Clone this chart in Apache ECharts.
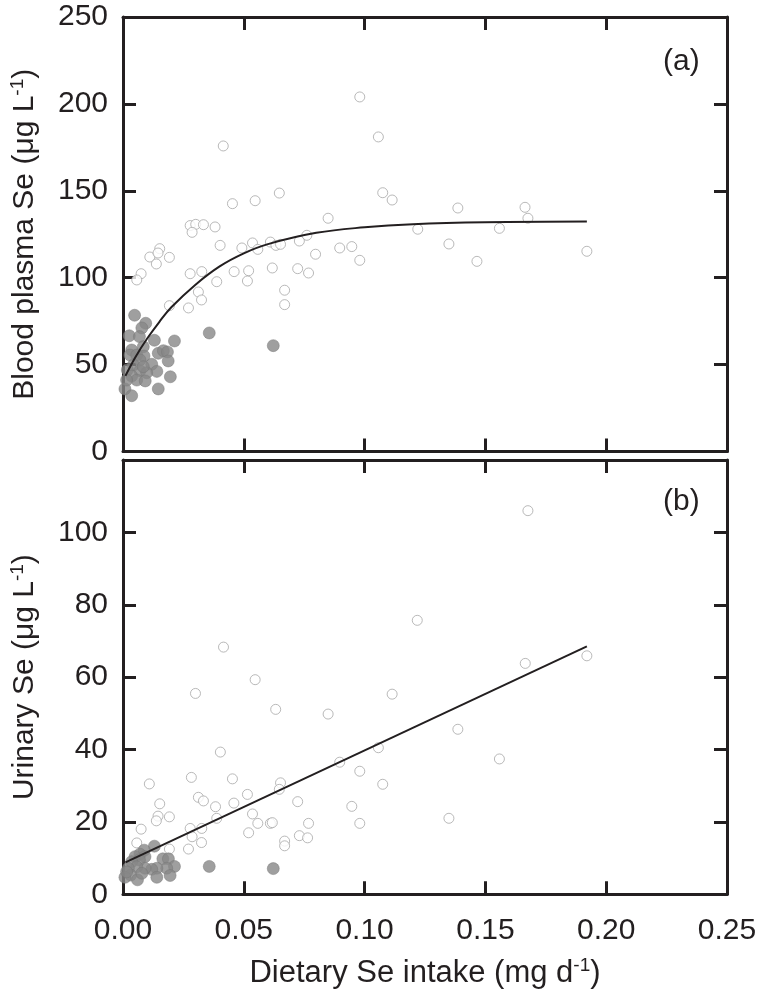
<!DOCTYPE html>
<html><head><meta charset="utf-8">
<script src="https://cdn.jsdelivr.net/npm/echarts@6/dist/echarts.min.js"></script>
<style>html,body{margin:0;padding:0;background:#fff}#c{width:760px;height:1004px}</style>
</head><body><div id="c"></div>
<script>
// ---- data (x: dietary Se intake mg/d) ----
const plasmaOpen = [[0.098,204],[0.0415,175.8],[0.1057,181],[0.0647,148.7],[0.0547,144.3],[0.0453,142.6],[0.1075,148.9],[0.1114,144.7],[0.0849,134.2],[0.0278,130],[0.0301,130.7],[0.0333,130.5],[0.0286,126.1],[0.0381,129.2],[0.1220,127.9],[0.0761,124.4],[0.1386,140.1],[0.1664,140.5],[0.1676,134.2],[0.1558,128.4],[0.1349,119.4],[0.1465,109.4],[0.192,115.2],[0.0402,118.6],[0.0492,117.1],[0.0536,120.0],[0.0558,116.3],[0.0610,120.5],[0.0633,118.6],[0.0652,119.2],[0.0730,121.1],[0.0797,113.5],[0.0897,117.1],[0.0947,117.9],[0.098,110.0],[0.0152,116.7],[0.0111,111.9],[0.0145,114.2],[0.0192,111.7],[0.0138,107.9],[0.0075,102.3],[0.0057,98.7],[0.0278,102.3],[0.0326,103.5],[0.0388,97.7],[0.046,103.5],[0.052,104.0],[0.0515,98.1],[0.0618,105.6],[0.0723,105.2],[0.0768,102.7],[0.0669,92.8],[0.0669,84.5],[0.0312,91.8],[0.0325,87.2],[0.0271,82.6],[0.0192,83.9]];
const plasmaFilled = [[0.0048,78.4],[0.0094,73.8],[0.0078,71.1],[0.0026,66.6],[0.0068,66.1],[0.013,64.0],[0.0213,63.6],[0.0357,68.2],[0.0622,60.9],[0.0036,58.4],[0.0084,60.3],[0.0029,55.5],[0.0057,55.5],[0.0087,54.9],[0.0146,56.5],[0.0167,58.0],[0.0184,57.3],[0.0187,52.1],[0.0070,52.7],[0.0043,49.8],[0.0119,50.2],[0.0018,46.9],[0.0070,46.5],[0.014,46.1],[0.0098,45.3],[0.0036,43.4],[0.0196,43.0],[0.0057,41.1],[0.0092,40.6],[0.0008,36.0],[0.0146,36.0],[0.0036,32.1],[0.0084,48.8],[0.0015,41.1]];
const plasmaFit = [[0.001,43.5],[0.005,54.0],[0.01,65.0],[0.015,74.5],[0.02,83.0],[0.03,96.0],[0.04,106.5],[0.05,114.0],[0.06,119.3],[0.08,125.8],[0.10,129.0],[0.12,130.8],[0.15,131.9],[0.192,132.3]];
const urineOpen = [[0.0416,68.3],[0.0547,59.3],[0.1218,75.7],[0.1676,106.0],[0.1665,63.8],[0.192,65.9],[0.1386,45.6],[0.1558,37.4],[0.1349,21.0],[0.030,55.5],[0.0632,51.1],[0.0849,49.8],[0.1114,55.3],[0.0403,39.3],[0.1057,40.5],[0.0897,36.5],[0.098,34.0],[0.1075,30.4],[0.0109,30.5],[0.0283,32.3],[0.0453,31.9],[0.0652,30.8],[0.0647,29.0],[0.0515,27.6],[0.0312,26.8],[0.0333,25.8],[0.0383,24.2],[0.0459,25.2],[0.0723,25.6],[0.0947,24.3],[0.0152,25.0],[0.0145,21.6],[0.0138,20.3],[0.0192,21.4],[0.0388,21.0],[0.0536,22.2],[0.0558,19.6],[0.061,19.6],[0.0618,19.8],[0.0768,19.6],[0.098,19.6],[0.0075,18.0],[0.0278,18.2],[0.0326,18.2],[0.052,17.0],[0.0286,15.9],[0.073,16.2],[0.0764,15.6],[0.0669,14.7],[0.0669,13.4],[0.0057,14.2],[0.0325,14.3],[0.0271,12.5],[0.0192,12.5]];
const urineFilled = [[0.0357,7.7],[0.0622,7.1],[0.013,13.3],[0.0088,12.2],[0.007,11.1],[0.005,10.4],[0.0091,10.4],[0.0068,9.5],[0.0036,9.0],[0.0165,9.8],[0.0188,9.8],[0.0213,7.7],[0.0181,7.2],[0.014,7.2],[0.0119,6.9],[0.0091,7.2],[0.0057,7.6],[0.0022,7.2],[0.0032,5.3],[0.0008,4.7],[0.0060,4.0],[0.014,4.7],[0.0195,5.2],[0.0015,6.2],[0.0078,5.8]];
const urineFit = [[0.001,8.8],[0.192,68.5]];
const xTicks = [0, 0.05, 0.10, 0.15, 0.20, 0.25];
const plasmaTicks = [0, 50, 100, 150, 200, 250];
const urineTicks = [0, 20, 40, 60, 80, 100, 120];
const panelLabels = ['(a)', '(b)'];

const INK = '#231f20';
const FONT = '"Liberation Sans", Arial, sans-serif';
const chart = echarts.init(document.getElementById('c'), null, {renderer: 'canvas'});

function richName(size) {
  return {color: INK, fontSize: size, fontFamily: FONT,
    rich: {n: {fontSize: size, fontFamily: FONT, color: INK}, s: {fontSize: 19, fontFamily: FONT, color: INK, padding: [0, 0, 15, 0]}}};
}
function xAx(grid, pos, labels, name) {
  return {
    type: 'value', gridIndex: grid, position: pos, min: xTicks[0], max: xTicks[xTicks.length - 1], interval: 0.05,
    axisLine: {show: true, onZero: false, lineStyle: {color: INK, width: 3}},
    axisTick: {show: true, inside: true, length: 13, lineStyle: {color: INK, width: 3}},
    axisLabel: {show: labels, margin: 21, color: INK, fontSize: 30, fontFamily: FONT,
      formatter: v => v.toFixed(2)},
    splitLine: {show: false},
    name: name || '', nameLocation: 'middle', nameGap: 62,
    nameTextStyle: richName(31)
  };
}
function yAx(grid, pos, ticks, interval, labels, name, hideMax) {
  return {
    type: 'value', gridIndex: grid, position: pos, min: ticks[0], max: ticks[ticks.length - 1], interval: interval,
    axisLine: {show: true, onZero: false, lineStyle: {color: INK, width: 3}},
    axisTick: {show: true, inside: true, length: 13, lineStyle: {color: INK, width: 3}},
    axisLabel: {show: labels, margin: 15, color: INK, fontSize: 30, fontFamily: FONT, showMaxLabel: !hideMax, showMinLabel: true},
    splitLine: {show: false},
    name: name || '', nameLocation: 'middle', nameGap: 81, nameRotate: 90,
    nameTextStyle: richName(30)
  };
}

const openStyle = {color: '#ffffff', borderColor: '#a8a8a8', borderWidth: 1};
const fillStyle = {color: '#878787', borderColor: '#777777', borderWidth: 0.6};

chart.setOption({
  animation: false,
  backgroundColor: '#ffffff',
  grid: [
    {left: 123, right: 33, top: 17, height: 434.5, outerBoundsMode: 'none', containLabel: false},
    {left: 123, right: 33, top: 460, height: 434.3, outerBoundsMode: 'none', containLabel: false}
  ],
  xAxis: [
    xAx(0, 'bottom', false), xAx(0, 'top', false),
    xAx(1, 'bottom', true, '{n|Dietary Se intake (mg d}{s|-1}{n|)}'), xAx(1, 'top', false)
  ],
  yAxis: [
    yAx(0, 'left', plasmaTicks, 50, true, '{n|Blood plasma Se (μg L}{s|-1}{n|)}', false),
    yAx(0, 'right', plasmaTicks, 50, false),
    yAx(1, 'left', urineTicks, 20, true, '{n|Urinary Se (μg L}{s|-1}{n|)}', true),
    yAx(1, 'right', urineTicks, 20, false)
  ],
  series: [
    {type: 'scatter', xAxisIndex: 0, yAxisIndex: 0, data: plasmaOpen, symbol: 'circle', symbolSize: 10, itemStyle: openStyle, z: 3},
    {type: 'scatter', xAxisIndex: 0, yAxisIndex: 0, data: plasmaFilled, symbol: 'circle', symbolSize: 12, itemStyle: fillStyle, z: 4},
    {type: 'line', xAxisIndex: 0, yAxisIndex: 0, data: plasmaFit, smooth: 0.4, showSymbol: false, symbol: 'none', lineStyle: {color: INK, width: 2}, z: 5},
    {type: 'scatter', xAxisIndex: 2, yAxisIndex: 2, data: urineOpen, symbol: 'circle', symbolSize: 10, itemStyle: openStyle, z: 3},
    {type: 'scatter', xAxisIndex: 2, yAxisIndex: 2, data: urineFilled, symbol: 'circle', symbolSize: 12, itemStyle: fillStyle, z: 4},
    {type: 'line', xAxisIndex: 2, yAxisIndex: 2, data: urineFit, showSymbol: false, symbol: 'none', lineStyle: {color: INK, width: 2}, z: 5}
  ],
  graphic: [
    {type: 'text', left: 663, top: 47, style: {text: panelLabels[0], fill: INK, font: '30px ' + FONT}},
    {type: 'text', left: 663, top: 487, style: {text: panelLabels[1], fill: INK, font: '30px ' + FONT}}
  ]
});
</script>
</body></html>
